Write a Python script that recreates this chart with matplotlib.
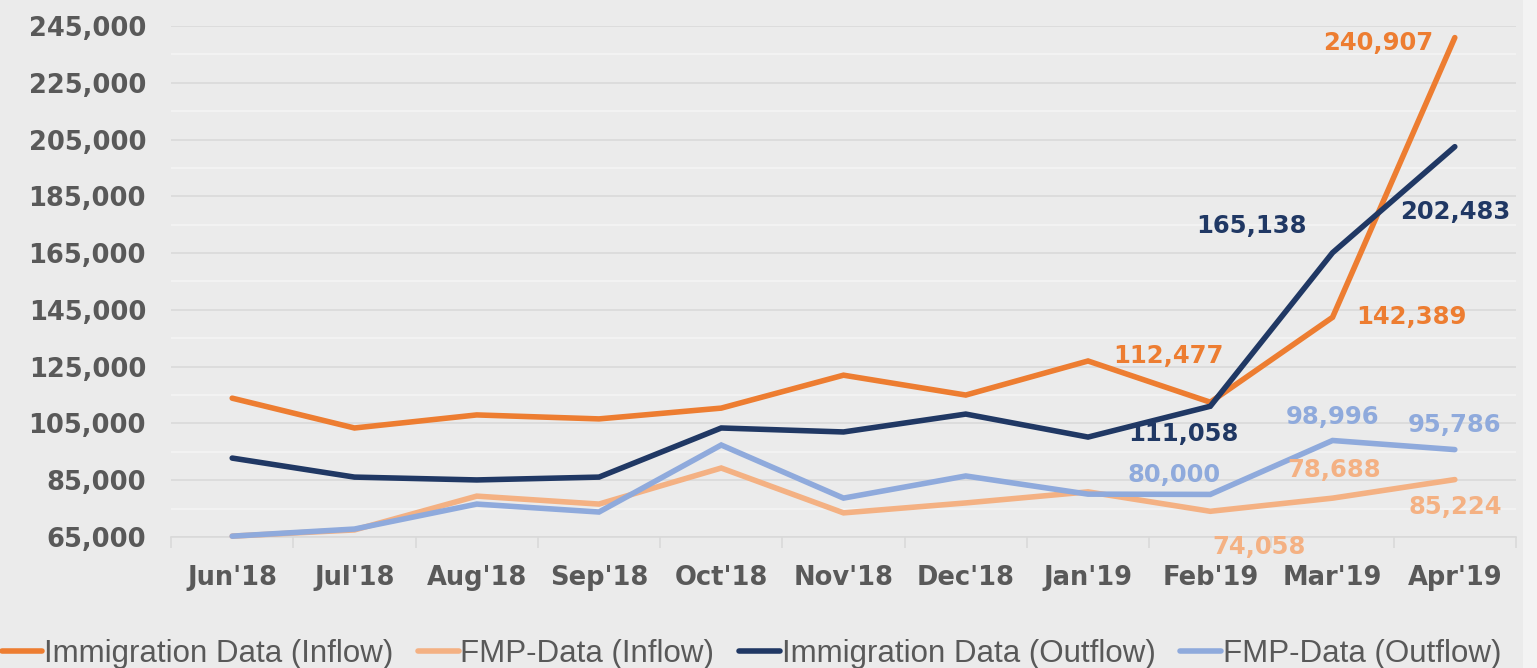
import numpy as np
import matplotlib.pyplot as plt
from matplotlib.patches import Rectangle

# data
months = ["Jun'18", "Jul'18", "Aug'18", "Sep'18", "Oct'18", "Nov'18",
          "Dec'18", "Jan'19", "Feb'19", "Mar'19", "Apr'19"]
imm_inflow = [113900, 103400, 108000, 106600, 110400, 122000,
              115000, 127000, 112477, 142389, 240907]
fmp_inflow = [65300, 67500, 79400, 76600, 89300, 73500,
              77000, 80900, 74058, 78688, 85224]
imm_outflow = [92800, 86100, 85100, 86100, 103400, 102000,
               108300, 100200, 111058, 165138, 202483]
fmp_outflow = [65300, 67800, 76600, 73800, 97400, 78700,
               86500, 80100, 80000, 98996, 95786]

series_names = ["Immigration Data (Inflow)", "FMP-Data (Inflow)",
                "Immigration Data (Outflow)", "FMP-Data (Outflow)"]
colors = ["#ED7D31", "#F4B183", "#203864", "#8FAADC"]
y_ticks = list(range(65000, 245001, 20000))

# which points get a value label (index) and label offsets in points
label_offsets = [
    {8: (-30, 33), 9: (57, 0), 10: (-55, -4)},
    {8: (35, -26), 9: (1, 20), 10: (0, -20)},
    {8: (-19, -20), 9: (-58, 19), 10: (0, -47)},
    {8: (-26, 14), 9: (0, 17), 10: (0, 18)},
]

bg = "#EBEBEB"
fig = plt.figure(figsize=(15.37, 6.68), dpi=100, facecolor=bg)
ax = fig.add_axes([0.1113, 0.1961, 0.875, 0.765])
ax.set_facecolor(bg)

x = np.arange(len(months))
all_series = [imm_inflow, fmp_inflow, imm_outflow, fmp_outflow]
draw_order = [1, 3, 0, 2]
lines = {}
for i in draw_order:
    ln, = ax.plot(x, all_series[i], color=colors[i], lw=4.0,
                  solid_capstyle="round", solid_joinstyle="miter",
                  label=series_names[i], clip_on=False, zorder=3 + i)
    lines[i] = ln

for i, offs in enumerate(label_offsets):
    for idx, (dx, dy) in offs.items():
        v = all_series[i][idx]
        ax.annotate(f"{v:,}", (x[idx], v), xytext=(dx, dy),
                    textcoords="offset points", ha="center", va="center",
                    color=colors[i], fontsize=17.5, fontweight="bold",
                    family="DejaVu Sans", zorder=10)

ax.set_xlim(-0.5, len(months) - 0.5)
ax.set_ylim(65000, 245000)
ax.set_yticks(y_ticks)
ax.set_yticklabels([f"{t:,}" for t in y_ticks])
ax.set_yticks(np.arange(75000, 245000, 20000), minor=True)
ax.set_xticks(x)
ax.set_xticklabels(months)
ax.set_xticks(np.arange(-0.5, len(months), 1.0), minor=True)

ax.grid(axis="y", which="major", color="#D9D9D9", lw=1.2, zorder=0)
ax.grid(axis="y", which="minor", color="#F4F4F4", lw=1.2, zorder=0)
ax.tick_params(axis="y", which="both", length=0, pad=18)
ax.tick_params(axis="x", which="major", length=0, pad=20)
ax.tick_params(axis="x", which="minor", length=8, color="#D9D9D9", width=1.2)
for lab in ax.get_xticklabels() + ax.get_yticklabels():
    lab.set_fontsize(18.5)
    lab.set_fontweight("bold")
    lab.set_color("#595959")
    lab.set_family("DejaVu Sans")

for s in ["top", "right", "left"]:
    ax.spines[s].set_visible(False)
ax.spines["bottom"].set_color("#D9D9D9")
ax.spines["bottom"].set_linewidth(1.2)

# lighter strip at the right edge of the picture
fig.patches.append(Rectangle((0.991, 0), 0.009, 1, transform=fig.transFigure,
                             facecolor="#F3F3F3", edgecolor="none", zorder=-1))

leg = fig.legend([lines[i] for i in range(4)], series_names, ncol=4,
                 loc="lower left", bbox_to_anchor=(0.0, -0.004), frameon=False,
                 borderpad=0, borderaxespad=0.05, handlelength=1.3,
                 handletextpad=0.05, columnspacing=0.8,
                 prop={"family": "Liberation Sans", "size": 22.5})
for t in leg.get_texts():
    t.set_color("#595959")

fig.savefig("out.png", dpi=100, facecolor=bg)
